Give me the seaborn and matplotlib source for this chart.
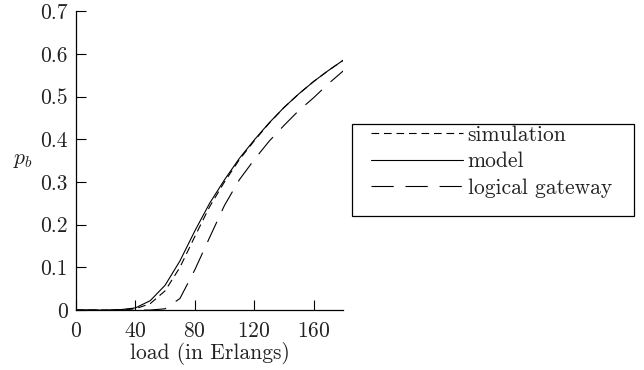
import pandas as pd
import seaborn as sns
import matplotlib
import matplotlib.pyplot as plt
from matplotlib.patches import Rectangle

sns.set_theme(style="ticks")
plt.rcParams["font.family"] = ["cmr10", "DejaVu Serif"]
plt.rcParams["mathtext.fontset"] = "cm"
plt.rcParams["axes.formatter.use_mathtext"] = True
plt.rcParams["lines.scale_dashes"] = False

# data
load = [0, 10, 20, 30, 40, 50, 60, 70, 80, 90, 100, 110, 120, 130, 140, 150, 160, 170, 180]
model = [0, 0, 0, 0.001, 0.005, 0.022, 0.058, 0.115, 0.185, 0.25, 0.305, 0.355, 0.398,
         0.438, 0.474, 0.506, 0.535, 0.561, 0.585]
simulation = [0, 0, 0, 0.0005, 0.003, 0.015, 0.045, 0.1, 0.172, 0.242, 0.3, 0.352, 0.396,
              0.437, 0.474, 0.506, 0.535, 0.561, 0.585]
logical_gateway = [0, 0, 0, 0, 0, 0, 0.003, 0.027, 0.094, 0.17, 0.245, 0.305, 0.352,
                   0.395, 0.432, 0.467, 0.497, 0.53, 0.56]
series_names = ["simulation", "model", "logical gateway"]
xticks = [0, 40, 80, 120, 160]
yticks = [0, 0.1, 0.2, 0.3, 0.4, 0.5, 0.6, 0.7]
ytick_labels = ["0", "0.1", "0.2", "0.3", "0.4", "0.5", "0.6", "0.7"]

df = pd.DataFrame({
    "load": load * 3,
    "pb": simulation + model + logical_gateway,
    "series": [n for n in series_names for _ in load],
})

FS = 15.5
fig = plt.figure(figsize=(6.44, 3.70), dpi=100)
ax = fig.add_axes([0.118, 0.162, 0.415, 0.808])

dashes = {"simulation": (5.5, 3.5), "model": "", "logical gateway": (16, 8.5)}
sns.lineplot(data=df, x="load", y="pb", style="series", style_order=series_names,
             dashes=dashes, color="black", linewidth=0.8, ax=ax)

ax.set_xlim(0, 180)
ax.set_ylim(0, 0.7)
ax.set_xticks(xticks)
ax.set_yticks(yticks)
ax.set_yticklabels(ytick_labels)
ax.tick_params(direction="in", length=7, width=0.8, color="black", labelsize=FS,
               labelcolor="#222222")
ax.tick_params(axis="x", pad=8)
ax.tick_params(axis="y", pad=6)
sns.despine(ax=ax)
for s in ["left", "bottom"]:
    ax.spines[s].set_color("black")
    ax.spines[s].set_linewidth(0.9)
ax.set_facecolor("white")

ax.set_xlabel("load (in Erlangs)", fontsize=FS, color="#222222", labelpad=1)
ax.set_ylabel("$p_b$", fontsize=FS, rotation=0, color="#222222")
ax.yaxis.set_label_coords(-0.20, 0.47)

handles, labels = ax.get_legend_handles_labels()
leg = ax.legend(handles, labels, loc="upper left", bbox_to_anchor=(1.103, 0.618),
                frameon=False, fontsize=FS, handlelength=4.28, handletextpad=0.22,
                labelspacing=0.32, borderpad=0, borderaxespad=0)
for t in leg.get_texts():
    t.set_color("#222222")

fig.patches.append(Rectangle((352 / 644, 1 - 216 / 370), 282 / 644, 92 / 370,
                             transform=fig.transFigure, fill=False,
                             edgecolor="black", linewidth=0.9))

fig.savefig("out.png", dpi=100, facecolor="white")
